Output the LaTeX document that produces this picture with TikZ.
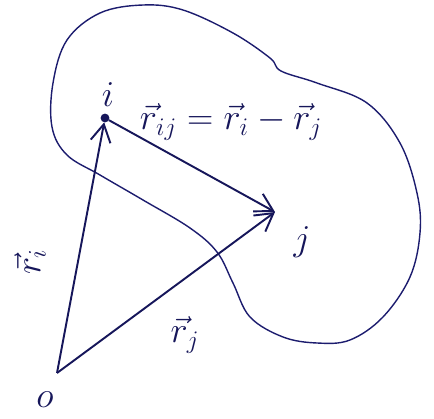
\documentclass[tikz,border=0pt]{standalone}
\usetikzlibrary{arrows.meta}
\definecolor{cink}{RGB}{22,22,90}
\definecolor{cblob}{RGB}{28,28,110}
\def \globalscale {1.000000}

\begin{document}
\begin{tikzpicture}[y=-0.02cm, x=0.02cm, yscale=\globalscale,xscale=\globalscale, every node/.append style={scale=\globalscale}, inner sep=0pt, outer sep=0pt,
  vec/.style={draw=cink, line width=1.1pt, -{Straight Barb[length=3.5mm,width=4mm]}},
  lbl/.style={text=cink, font=\huge}]
  \useasboundingbox (0,0) rectangle (434,419);

  \path[draw=cblob, line width=0.8pt] plot[smooth cycle, tension=0.6] coordinates {(52,127) (53,83) (67,40) (100,13) (143,5) (183,10) (233,33) (270,58) (281,71) (317,83) (367,103) (400,143) (417,193) (420,233) (410,277) (383,317) (350,340) (317,343) (283,337) (250,317) (233,283) (217,252) (190,228) (143,200) (100,175) (67,155)};



  \node[circle, fill=cink, minimum size=5pt] (pi) at (105,118) {};
  \coordinate (pj) at (275,212);
  \coordinate (po) at (57,373);



  \draw[vec] (po) -- (pi);
  \draw[vec] (po) -- (pj);
  \draw[vec] (pi) -- (pj);



  \node[lbl] (texti) at (108,95) {$i$};
  \node[lbl] (textj) at (302,242) {$j$};
  \node[lbl] (texto) at (45,400) {$o$};
  \node[lbl, rotate=90] (textri) at (30,262) {$\vec r_i$};
  \node[lbl] (textrj) at (185,335) {$\vec r_j$};
  \node[lbl, anchor=west] (textrij) at (140,122) {$\vec r_{ij}=\vec r_i-\vec r_j$};

\end{tikzpicture}
\end{document}
